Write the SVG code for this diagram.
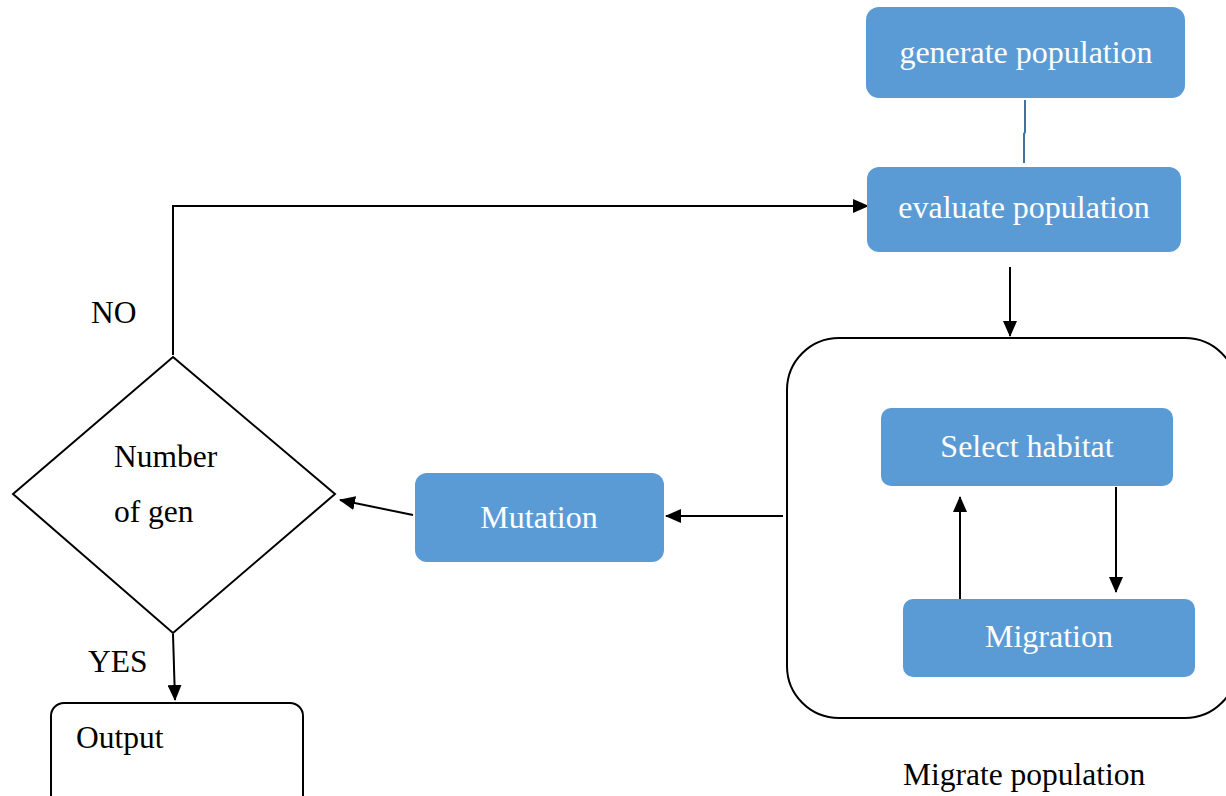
<svg xmlns="http://www.w3.org/2000/svg" width="1226" height="796" viewBox="0 0 1226 796">
  <style>
    .blue { fill: #5B9BD5; }
    .wt { fill: #ffffff; font-family: "Liberation Serif", "Times New Roman", serif; font-size: 32px; text-anchor: middle; }
    .bk { fill: #000000; font-family: "Liberation Serif", "Times New Roman", serif; font-size: 31.5px; }
    .ln { fill: none; stroke: #000000; stroke-width: 2; }
    .outline { fill: #ffffff; stroke: #000000; stroke-width: 2; }
    .frame { fill: none; stroke: #000000; stroke-width: 2; }
  </style>
  <defs>
    <marker id="arr" markerUnits="userSpaceOnUse" markerWidth="16" markerHeight="14" refX="15" refY="7" orient="auto">
      <path d="M0,0 L16,7 L0,14 Z" fill="#000000"/>
    </marker>
  </defs>

  <rect width="1226" height="796" fill="#ffffff"/>

  <g id="migrate-population">
    <rect class="frame" x="787" y="338" width="450" height="380" rx="52"/>
    <text class="bk" x="903" y="785">Migrate population</text>
  </g>

  <!-- connectors -->
  <g id="connectors">
    <path d="M1025,100 L1025,132 L1024,134 L1024,163" fill="none" stroke="#41719C" stroke-width="2"/>
    <path class="ln" d="M173,355 L173,206 L868,206" marker-end="url(#arr)"/>
    <path class="ln" d="M1010,267 L1010,336" marker-end="url(#arr)"/>
    <path class="ln" d="M783,516 L666,516" marker-end="url(#arr)"/>
    <path class="ln" d="M413,515 L340,500" marker-end="url(#arr)"/>
    <path class="ln" d="M173,634 L175,700" marker-end="url(#arr)"/>
    <path class="ln" d="M960,599 L960,497" marker-end="url(#arr)"/>
    <path class="ln" d="M1116,487 L1116,592" marker-end="url(#arr)"/>
  </g>

  <g id="generate">
    <rect class="blue" x="866" y="7" width="319" height="91" rx="13"/>
    <text class="wt" x="1026" y="63">generate population</text>
  </g>

  <g id="evaluate">
    <rect class="blue" x="867" y="167" width="314" height="85" rx="12"/>
    <text class="wt" x="1024" y="218">evaluate population</text>
  </g>

  <g id="select-habitat">
    <rect class="blue" x="881" y="408" width="292" height="78" rx="10"/>
    <text class="wt" x="1027" y="457">Select habitat</text>
  </g>

  <g id="migration">
    <rect class="blue" x="903" y="599" width="292" height="78" rx="10"/>
    <text class="wt" x="1049" y="647">Migration</text>
  </g>

  <g id="mutation">
    <rect class="blue" x="415" y="473" width="249" height="89" rx="12"/>
    <text class="wt" x="539" y="528">Mutation</text>
  </g>

  <g id="decision">
    <polygon class="outline" points="173,357 335,494 173,633 13,494"/>
    <text class="bk" x="114" y="467">Number</text>
    <text class="bk" x="114" y="522">of gen</text>
    <text class="bk" x="91" y="323">NO</text>
    <text class="bk" x="88" y="672">YES</text>
  </g>

  <g id="output">
    <rect class="outline" x="51" y="703" width="252" height="110" rx="13"/>
    <text class="bk" x="76" y="748">Output</text>
  </g>
</svg>
